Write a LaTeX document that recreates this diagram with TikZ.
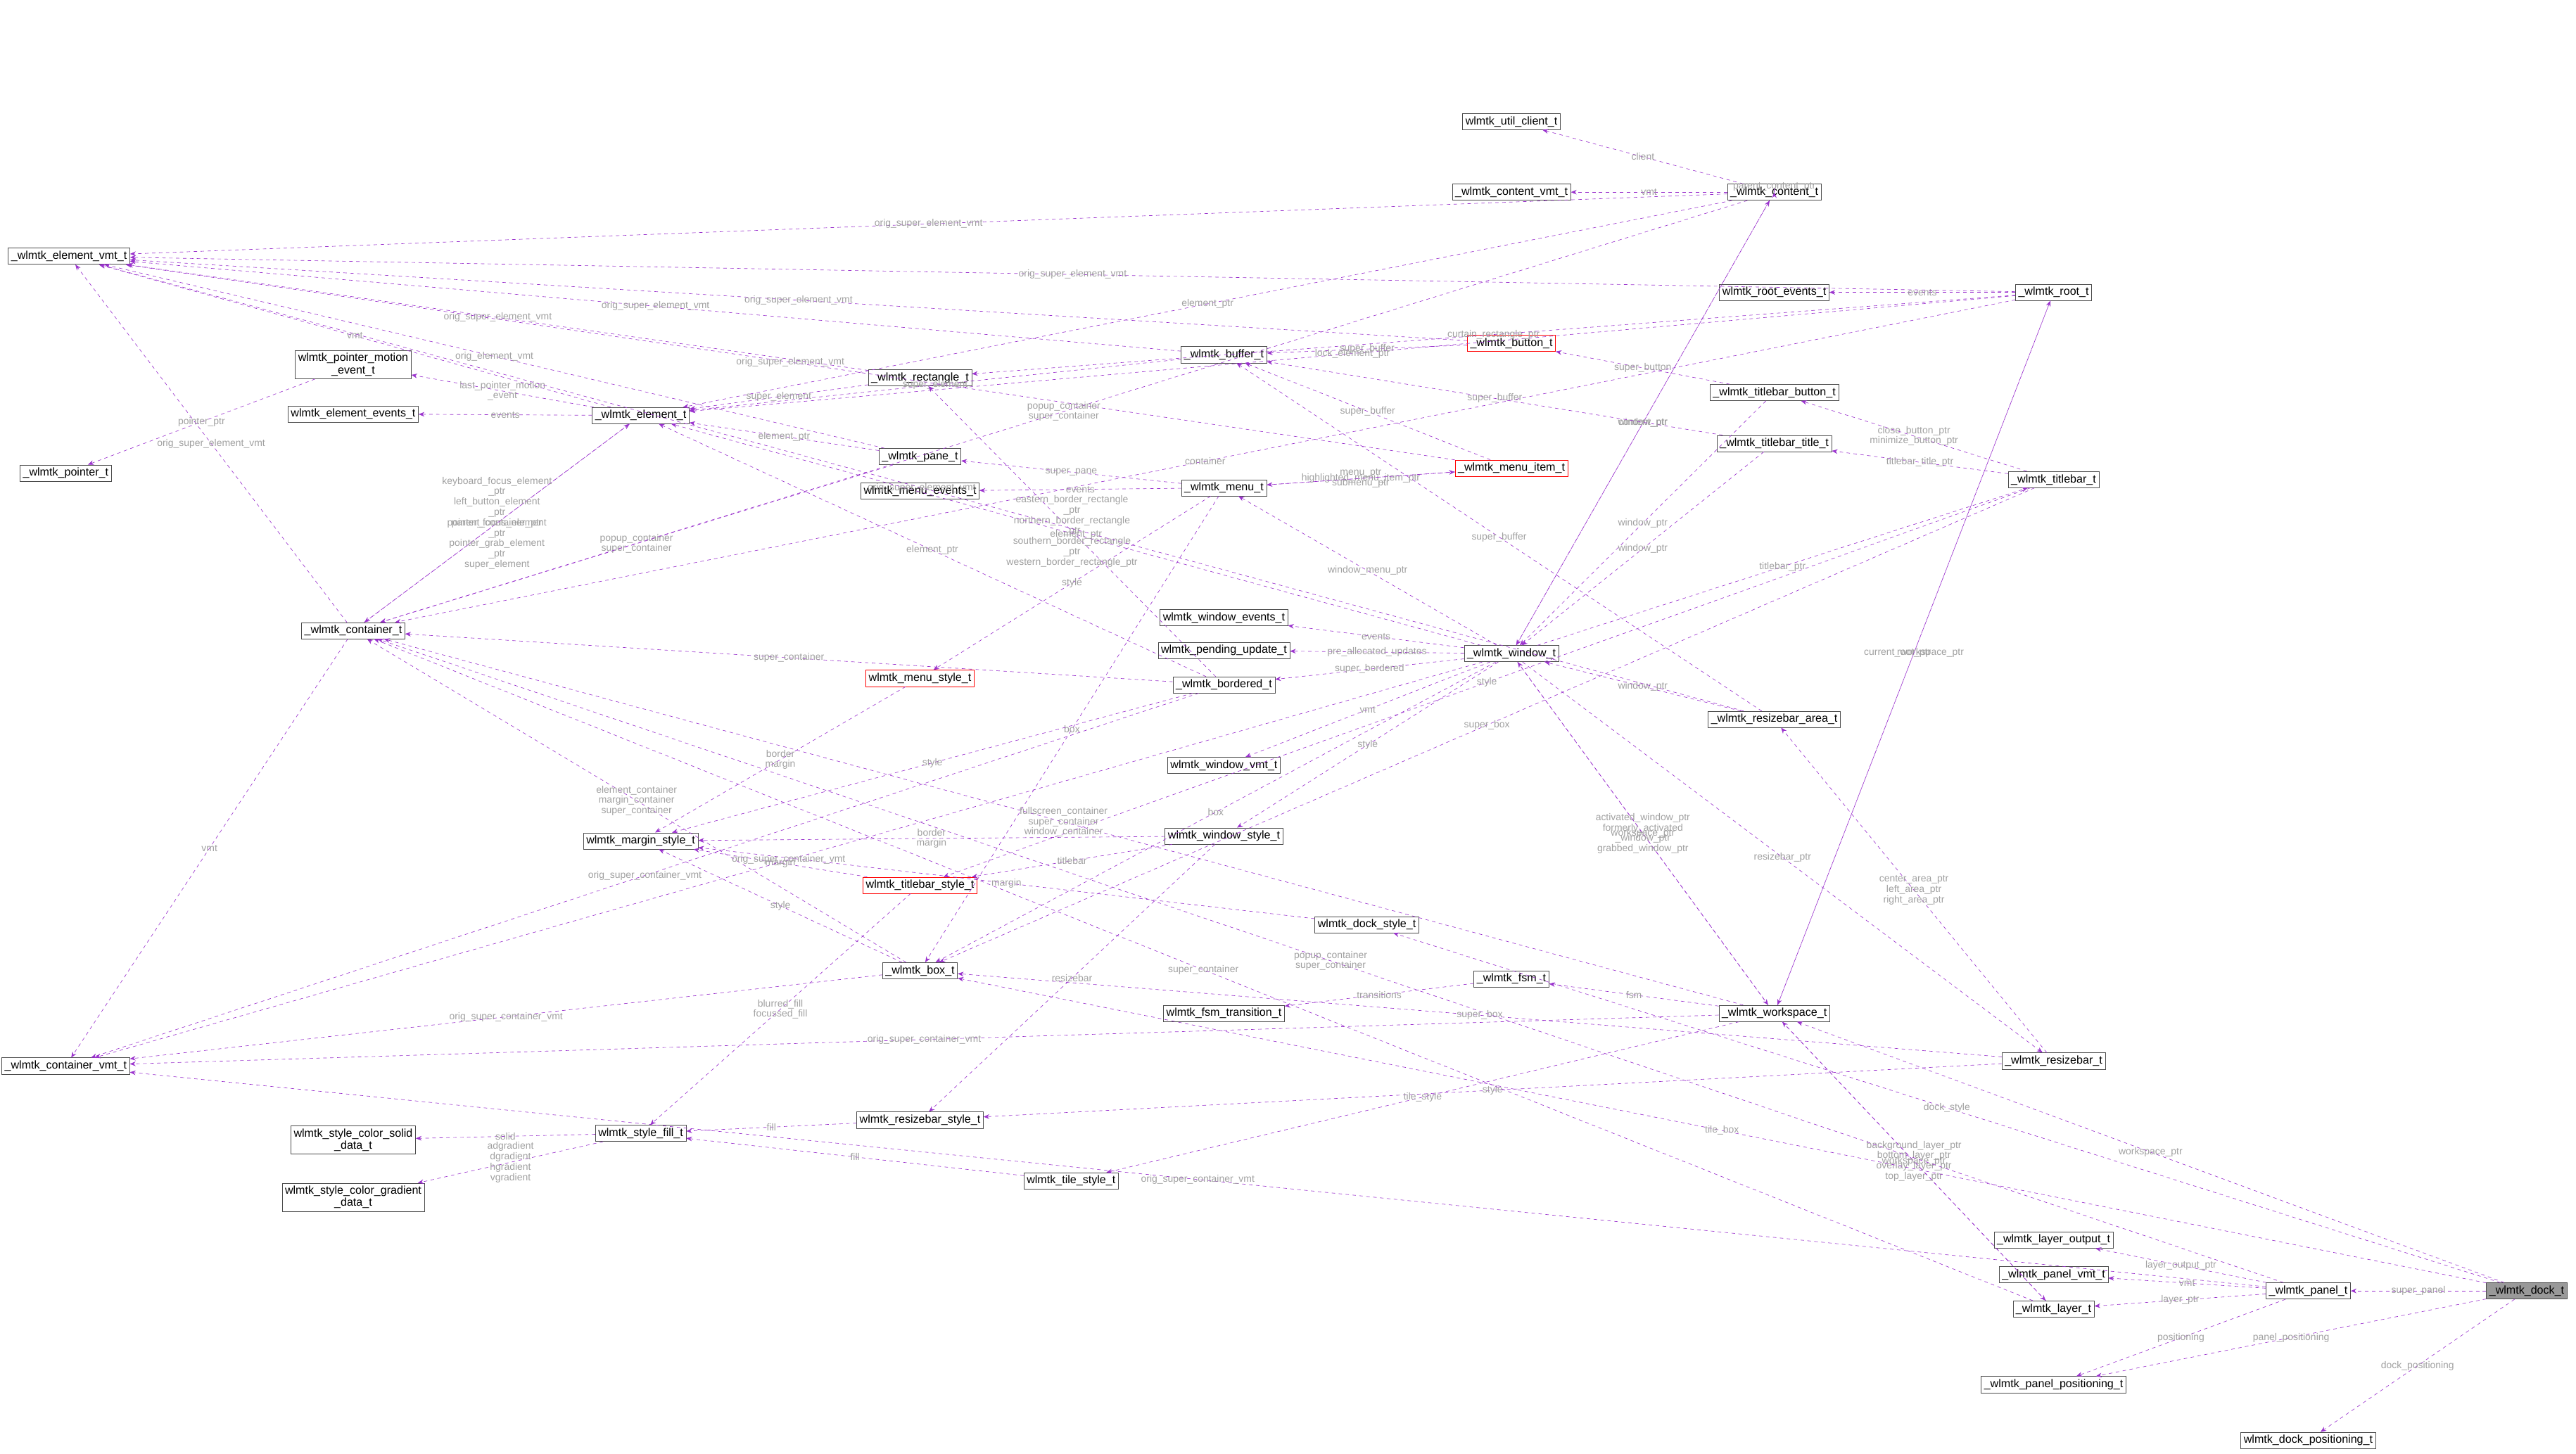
\documentclass[tikz,border=0pt]{standalone}
\usepackage{fontspec}
\setmainfont{Liberation Sans}
\usetikzlibrary{arrows.meta}
\definecolor{edgec}{HTML}{9A32CD}
\definecolor{lblc}{HTML}{A0A0A0}
\newcommand{\dep}[4][]{\draw[dep,#1] (#2) -- node[lbl]{#4} (#3);}
\begin{document}
\begin{tikzpicture}[x=0.05cm,y=-0.05cm,
	box/.style={draw=black!70,fill=white,inner sep=2.5pt,font=\fontsize{9.8}{10.5}\selectfont,align=center},
	redbox/.style={box,draw=red},
	dep/.style={draw=edgec,dashed,-{Stealth[length=5pt,width=4pt]}},
	lbl/.style={text=lblc,font=\fontsize{8.5}{9}\selectfont,align=center,inner sep=1pt}]
	\useasboundingbox (0,0) rectangle (1568,885);
	% column 1
	\node[box] (evmt) at (42,156) {\_wlmtk\_element\_vmt\_t};
	\node[box] (cvmt) at (40,649) {\_wlmtk\_container\_vmt\_t};
	\node[box] (ptr) at (40,288) {\_wlmtk\_pointer\_t};
	% column 2
	\node[box] (pme) at (215,222) {wlmtk\_pointer\_motion\\\_event\_t};
	\node[box] (eev) at (215,252) {wlmtk\_element\_events\_t};
	\node[box] (cont) at (215,384) {\_wlmtk\_container\_t};
	\node[box] (csol) at (215,694) {wlmtk\_style\_color\_solid\\\_data\_t};
	\node[box] (cgrad) at (215,729) {wlmtk\_style\_color\_gradient\\\_data\_t};
	% column 3
	\node[box] (elem) at (390,253) {\_wlmtk\_element\_t};
	\node[box] (mstyle) at (390,512) {wlmtk\_margin\_style\_t};
	\node[box] (fill) at (390,690) {wlmtk\_style\_fill\_t};
	% column 4
	\node[box] (rect) at (560,230) {\_wlmtk\_rectangle\_t};
	\node[box] (pane) at (560,278) {\_wlmtk\_pane\_t};
	\node[box] (mev) at (560,299) {wlmtk\_menu\_events\_t};
	\node[redbox] (menst) at (560,413) {wlmtk\_menu\_style\_t};
	\node[redbox] (tbst) at (560,539) {wlmtk\_titlebar\_style\_t};
	\node[box] (boxt) at (560,591) {\_wlmtk\_box\_t};
	\node[box] (rbst) at (560,682) {wlmtk\_resizebar\_style\_t};
	\node[box] (tilest) at (652,719) {wlmtk\_tile\_style\_t};
	% column 5
	\node[box] (buf) at (745,216) {\_wlmtk\_buffer\_t};
	\node[box] (menu) at (745,297) {\_wlmtk\_menu\_t};
	\node[box] (wev) at (745,376) {wlmtk\_window\_events\_t};
	\node[box] (pend) at (745,396) {wlmtk\_pending\_update\_t};
	\node[box] (bord) at (745,417) {\_wlmtk\_bordered\_t};
	\node[box] (wvmt) at (745,466) {wlmtk\_window\_vmt\_t};
	\node[box] (wst) at (745,509) {wlmtk\_window\_style\_t};
	\node[box] (fsmtr) at (745,617) {wlmtk\_fsm\_transition\_t};
	\node[box] (dockst) at (832,563) {wlmtk\_dock\_style\_t};
	% column 6
	\node[box] (ucl) at (920,74) {wlmtk\_util\_client\_t};
	\node[box] (ctvmt) at (920,117) {\_wlmtk\_content\_vmt\_t};
	\node[redbox] (btn) at (920,209) {\_wlmtk\_button\_t};
	\node[redbox] (mitem) at (920,285) {\_wlmtk\_menu\_item\_t};
	\node[box] (win) at (920,398) {\_wlmtk\_window\_t};
	\node[box] (fsm) at (920,596) {\_wlmtk\_fsm\_t};
	% column 7
	\node[box] (content) at (1080,117) {\_wlmtk\_content\_t};
	\node[box] (rev) at (1080,178) {wlmtk\_root\_events\_t};
	\node[box] (tbb) at (1080,239) {\_wlmtk\_titlebar\_button\_t};
	\node[box] (tbt) at (1080,270) {\_wlmtk\_titlebar\_title\_t};
	\node[box] (rba) at (1080,438) {\_wlmtk\_resizebar\_area\_t};
	\node[box] (ws) at (1080,617) {\_wlmtk\_workspace\_t};
	% column 8
	\node[box] (root) at (1250,178) {\_wlmtk\_root\_t};
	\node[box] (tb) at (1250,292) {\_wlmtk\_titlebar\_t};
	\node[box] (rb) at (1250,646) {\_wlmtk\_resizebar\_t};
	\node[box] (lout) at (1250,755) {\_wlmtk\_layer\_output\_t};
	\node[box] (pvmt) at (1250,776) {\_wlmtk\_panel\_vmt\_t};
	\node[box] (layer) at (1250,797) {\_wlmtk\_layer\_t};
	\node[box] (ppos) at (1250,843) {\_wlmtk\_panel\_positioning\_t};
	% column 9
	\node[box] (panel) at (1405,786) {\_wlmtk\_panel\_t};
	\node[box] (dpos) at (1405,877) {wlmtk\_dock\_positioning\_t};
	\node[box,fill=black!40] (dock) at (1538,786) {\_wlmtk\_dock\_t};
	% element and container
	\dep{elem}{evmt}{vmt}
	\dep{elem}{pme}{last\_pointer\_motion\\\_event}
	\dep{elem}{eev}{events}
	\dep[bend left=10]{elem}{cont}{parent\_container\_ptr}
	\dep[bend left=10]{cont}{elem}{keyboard\_focus\_element\\\_ptr\\left\_button\_element\\\_ptr\\pointer\_focus\_element\\\_ptr\\pointer\_grab\_element\\\_ptr\\super\_element}
	\dep{cont}{cvmt}{vmt}
	\dep{cont}{evmt}{orig\_super\_element\_vmt}
	\dep{pme}{ptr}{pointer\_ptr}
	\dep{rect}{elem}{super\_element}
	\dep{rect}{evmt}{orig\_super\_element\_vmt}
	\dep{pane}{elem}{element\_ptr}
	\dep[bend left=10]{pane}{cont}{popup\_container\\super\_container}
	\dep[bend right=8]{pane}{evmt}{orig\_element\_vmt}
	\dep[bend left=15]{buf}{elem}{super\_element}
	\dep[bend right=8]{buf}{evmt}{orig\_super\_element\_vmt}
	\dep{btn}{buf}{super\_buffer}
	\dep[bend right=10]{btn}{evmt}{orig\_super\_element\_vmt}
	% menu
	\dep{menu}{pane}{super\_pane}
	\dep{menu}{mev}{events}
	\dep{menu}{menst}{style}
	\dep{menu}{boxt}{box}
	\dep{menu}{mitem}{highlighted\_menu\_item\_ptr}
	\dep[bend left=20]{mitem}{menu}{menu\_ptr\\submenu\_ptr}
	\dep{mitem}{buf}{super\_buffer}
	\dep[bend right=8]{mitem}{evmt}{orig\_super\_element\_vmt}
	% bordered and box
	\dep{bord}{cont}{super\_container}
	\dep{bord}{rect}{eastern\_border\_rectangle\\\_ptr\\northern\_border\_rectangle\\\_ptr\\southern\_border\_rectangle\\\_ptr\\western\_border\_rectangle\_ptr}
	\dep{bord}{mstyle}{style}
	\dep{bord}{cvmt}{orig\_super\_container\_vmt}
	\dep[bend right=10]{bord}{elem}{element\_ptr}
	\dep{boxt}{cont}{element\_container\\margin\_container\\super\_container}
	\dep{boxt}{mstyle}{style}
	\dep{boxt}{cvmt}{orig\_super\_container\_vmt}
	% styles
	\dep{menst}{mstyle}{border\\margin}
	\dep{tbst}{mstyle}{margin}
	\dep{tbst}{fill}{blurred\_fill\\focussed\_fill}
	\dep{fill}{csol}{solid}
	\dep{fill}{cgrad}{adgradient\\dgradient\\hgradient\\vgradient}
	\dep{rbst}{fill}{fill}
	\dep{tilest}{fill}{fill}
	\dep{wst}{mstyle}{border\\margin}
	\dep{wst}{tbst}{titlebar}
	\dep{wst}{rbst}{resizebar}
	\dep{dockst}{mstyle}{margin}
	% content
	\dep{content}{ucl}{client}
	\dep{content}{ctvmt}{vmt}
	\dep[loop above,looseness=4]{content}{content}{parent\_content\_ptr}
	\dep[bend right=10]{content}{elem}{element\_ptr}
	\dep{content}{win}{window\_ptr}
	\dep[bend right=10]{content}{cont}{popup\_container\\super\_container}
	\dep[bend right=12]{content}{evmt}{orig\_super\_element\_vmt}
	% window
	\dep[bend left=15]{win}{content}{content\_ptr}
	\dep{win}{wev}{events}
	\dep{win}{pend}{pre\_allocated\_updates}
	\dep{win}{bord}{super\_bordered}
	\dep{win}{wvmt}{vmt}
	\dep{win}{wst}{style}
	\dep{win}{boxt}{box}
	\dep{win}{tb}{titlebar\_ptr}
	\dep{win}{rb}{resizebar\_ptr}
	\dep{win}{ws}{workspace\_ptr}
	\dep{win}{menu}{window\_menu\_ptr}
	\dep[bend left=10]{win}{elem}{element\_ptr}
	\dep[bend left=8]{win}{cvmt}{orig\_super\_container\_vmt}
	% titlebar
	\dep{tbb}{btn}{super\_button}
	\dep{tbb}{win}{window\_ptr}
	\dep{tbt}{buf}{super\_buffer}
	\dep{tbt}{win}{window\_ptr}
	\dep{tb}{tbb}{close\_button\_ptr\\minimize\_button\_ptr}
	\dep{tb}{tbt}{titlebar\_title\_ptr}
	\dep{tb}{boxt}{super\_box}
	\dep{tb}{tbst}{style}
	% resizebar
	\dep{rba}{win}{window\_ptr}
	\dep{rba}{buf}{super\_buffer}
	\dep[bend left=15]{rba}{evmt}{orig\_super\_element\_vmt}
	\dep{rb}{rba}{center\_area\_ptr\\left\_area\_ptr\\right\_area\_ptr}
	\dep{rb}{boxt}{super\_box}
	\dep[bend left=10]{rb}{rbst}{style}
	% root
	\dep{root}{rev}{events}
	\dep[bend right=8]{root}{evmt}{orig\_super\_element\_vmt}
	\dep[bend right=8]{root}{elem}{lock\_element\_ptr}
	\dep{root}{rect}{curtain\_rectangle\_ptr}
	\dep{root}{cont}{container}
	\dep{root}{ws}{current\_workspace\_ptr}
	% workspace
	\dep{ws}{win}{activated\_window\_ptr\\formerly\_activated\\\_window\_ptr\\grabbed\_window\_ptr}
	\dep{ws}{fsm}{fsm}
	\dep{ws}{cont}{fullscreen\_container\\super\_container\\window\_container}
	\dep{ws}{cvmt}{orig\_super\_container\_vmt}
	\dep{ws}{tilest}{tile\_style}
	\dep{ws}{layer}{background\_layer\_ptr\\bottom\_layer\_ptr\\overlay\_layer\_ptr\\top\_layer\_ptr}
	\dep{ws}{root}{root\_ptr}
	\dep{fsm}{fsmtr}{transitions}
	% layer and panel
	\dep{layer}{ws}{workspace\_ptr}
	\dep[bend left=8]{layer}{cont}{super\_container}
	\dep{panel}{lout}{layer\_output\_ptr}
	\dep{panel}{pvmt}{vmt}
	\dep{panel}{layer}{layer\_ptr}
	\dep{panel}{ppos}{positioning}
	\dep[bend right=10]{panel}{cont}{popup\_container\\super\_container}
	\dep[bend left=5]{panel}{cvmt}{orig\_super\_container\_vmt}
	% dock
	\dep{dock}{panel}{super\_panel}
	\dep{dock}{ppos}{panel\_positioning}
	\dep{dock}{dpos}{dock\_positioning}
	\dep{dock}{boxt}{tile\_box}
	\dep{dock}{dockst}{dock\_style}
	\dep{dock}{ws}{workspace\_ptr}
\end{tikzpicture}
\end{document}
